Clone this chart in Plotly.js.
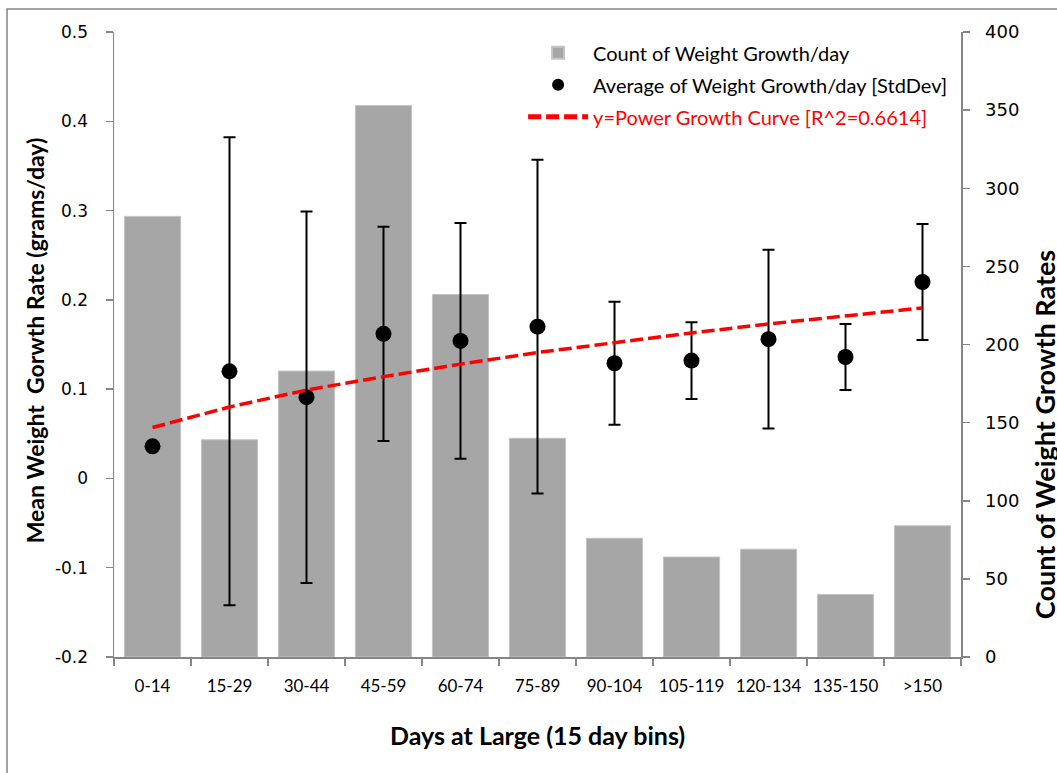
<!DOCTYPE html>
<html>
<head>
<meta charset="utf-8">
<script src="https://cdn.plot.ly/plotly-3.0.1.min.js"></script>
<style>html,body{margin:0;padding:0;background:#fff;}#chart{width:1057px;height:773px;}</style>
</head>
<body>
<div id="chart"></div>
<script>
// ---- data ----
const categories = ["0-14","15-29","30-44","45-59","60-74","75-89","90-104","105-119","120-134","135-150",">150"];
const counts = [282, 139, 183, 353, 232, 140, 76, 64, 69, 40, 84];
const meanGrowth = [0.036, 0.120, 0.091, 0.162, 0.154, 0.170, 0.129, 0.132, 0.156, 0.136, 0.220];
const stdDev = [0, 0.262, 0.208, 0.120, 0.132, 0.187, 0.069, 0.043, 0.100, 0.037, 0.065];
const powerCurve = [0.057, 0.080, 0.099, 0.114, 0.128, 0.141, 0.152, 0.163, 0.173, 0.182, 0.191];
const leftTicks = [-0.2, -0.1, 0, 0.1, 0.2, 0.3, 0.4, 0.5];
const leftTickText = ["-0.2", "-0.1", "0", "0.1", "0.2", "0.3", "0.4", "0.5"];
const rightTicks = [0, 50, 100, 150, 200, 250, 300, 350, 400];

const axisGrey = "#868686";
const numFont = {family: "DejaVu Sans, Verdana, sans-serif", size: 17, color: "#000"};
const textFont = "Lato, 'Open Sans', sans-serif";

const traces = [
  {
    type: "bar", x: categories, y: counts, yaxis: "y",
    name: "Count of Weight Growth/day", legendgroup: "a",
    marker: {color: "#A6A6A6", line: {color: "#C4C4C4", width: 1}},
    hoverinfo: "x+y"
  },
  {
    type: "scatter", mode: "markers", x: categories, y: meanGrowth, yaxis: "y2",
    name: "Average of Weight Growth/day [StdDev]", legendgroup: "b",
    marker: {color: "#000", size: 16},
    error_y: {type: "data", array: stdDev, visible: true, color: "#000", thickness: 2, width: 6}
  },
  {
    type: "scatter", mode: "lines", x: categories, y: powerCurve, yaxis: "y2",
    name: "<span style='color:#FF0000'>y=Power Growth Curve [R^2=0.6614]</span>", legendgroup: "c",
    line: {color: "#FF0000", width: 3.5, dash: "13px,5px"}
  }
];

const layout = {
  width: 1057, height: 773, autosize: false,
  margin: {l: 114, r: 96, t: 32, b: 116, pad: 0},
  paper_bgcolor: "#fff", plot_bgcolor: "#fff",
  showlegend: true,
  bargap: 0.27,
  font: {family: textFont, color: "#000"},
  legend: {
    x: 0.483, y: 0.998, xanchor: "left", yanchor: "top",
    bgcolor: "rgba(0,0,0,0)", font: {family: textFont, size: 20, color: "#000"},
    traceorder: "grouped", tracegroupgap: 3, itemwidth: 60, itemsizing: "constant"
  },
  xaxis: {
    type: "category", showgrid: false, zeroline: false,
    showline: true, linecolor: axisGrey, linewidth: 1.5,
    ticks: "outside", tickson: "boundaries", ticklen: 7, tickcolor: axisGrey, tickwidth: 1.5,
    tickfont: {family: textFont, size: 17, color: "#000"}, tickangle: 0,
    ticklabelstandoff: 13,
    range: [-0.5, 10.5]
  },
  yaxis: {
    side: "right", range: [0, 400], tickvals: rightTicks,
    showgrid: false, zeroline: false,
    showline: true, linecolor: axisGrey, linewidth: 1.5,
    ticks: "outside", ticklen: 7, tickcolor: axisGrey, tickwidth: 1.5,
    tickfont: {family: "DejaVu Sans, Verdana, sans-serif", size: 18, color: "#000"}, ticklabelstandoff: 12
  },
  yaxis2: {
    overlaying: "y", side: "left", range: [-0.2, 0.5],
    tickvals: leftTicks, ticktext: leftTickText,
    showgrid: false, zeroline: false,
    showline: true, linecolor: axisGrey, linewidth: 1.5,
    ticks: "outside", ticklen: 7, tickcolor: axisGrey, tickwidth: 1.5,
    tickfont: numFont, ticklabelstandoff: 14
  },
  annotations: [
    {text: "Days at Large (15 day bins)", xref: "paper", yref: "paper", x: 0.5, y: -0.125,
     showarrow: false, xanchor: "center", yanchor: "middle",
     font: {family: textFont, size: 25, weight: 700, color: "#000"}},
    {text: "Mean Weight\u00a0 Gorwth Rate (grams/day)", xref: "paper", yref: "paper", x: -0.093, y: 0.507,
     showarrow: false, xanchor: "center", yanchor: "middle", textangle: -90,
     font: {family: textFont, size: 23, weight: 700, color: "#000"}},
    {text: "Count of Weight Growth Rates", xref: "paper", yref: "paper", x: 1.098, y: 0.355,
     showarrow: false, xanchor: "center", yanchor: "middle", textangle: -90,
     font: {family: textFont, size: 27, weight: 700, color: "#000"}}
  ],
  shapes: [
    {type: "rect", xref: "paper", yref: "paper", x0: -0.1263, x1: 1.3, y0: -0.4, y1: 1.0368,
     line: {color: axisGrey, width: 1.5}, fillcolor: "rgba(0,0,0,0)", layer: "below"}
  ]
};

Plotly.newPlot("chart", traces, layout, {displayModeBar: false, staticPlot: true});
</script>
</body>
</html>
